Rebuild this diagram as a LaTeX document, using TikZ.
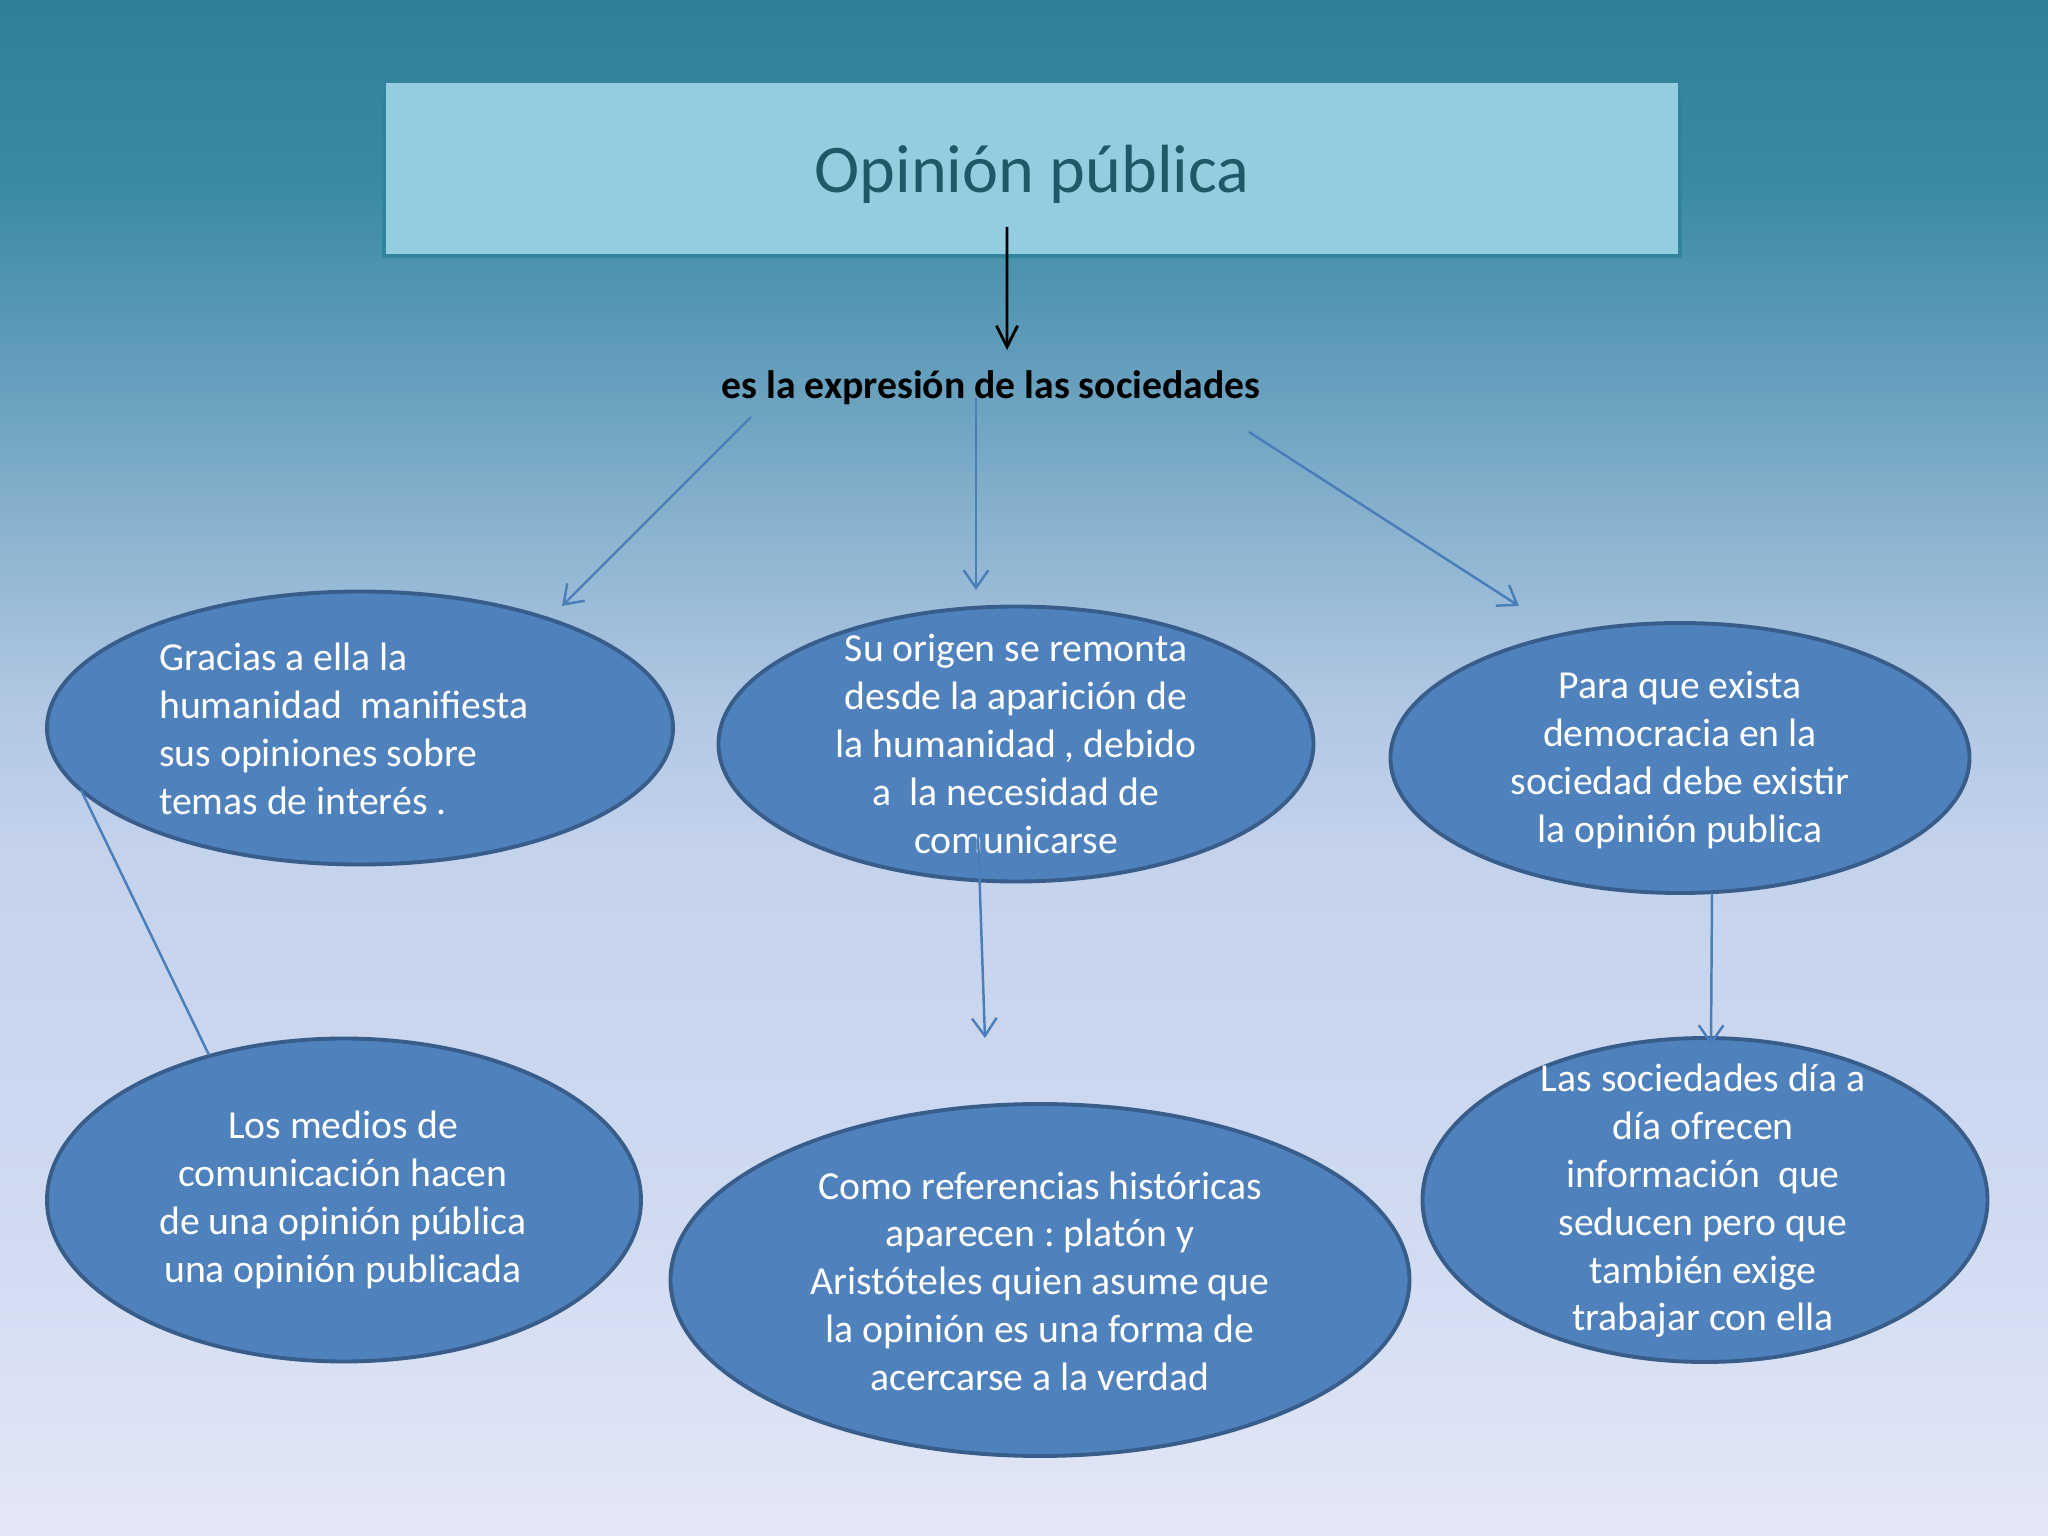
\documentclass[tikz,border=0pt]{standalone}
\usepackage{fontspec}
\setmainfont{Carlito}
\definecolor{bgtop}{RGB}{46, 128, 152}
\definecolor{bgtwo}{RGB}{58, 138, 163}
\definecolor{bgthree}{RGB}{103, 160, 190}
\definecolor{bgfour}{RGB}{140, 180, 208}
\definecolor{bgfive}{RGB}{175, 198, 226}
\definecolor{bgmid}{RGB}{196, 210, 236}
\definecolor{bgsix}{RGB}{208, 219, 241}
\definecolor{bgbot}{RGB}{228, 231, 246}
\definecolor{titlefill}{RGB}{148, 205, 224}
\definecolor{titleline}{RGB}{49, 132, 155}
\definecolor{titletext}{RGB}{33, 88, 104}
\definecolor{bubblefill}{RGB}{79, 129, 189}
\definecolor{bubbleline}{RGB}{56, 93, 138}
\definecolor{linkblue}{RGB}{74, 126, 187}
\usepackage{tikz}
\usetikzlibrary{shapes.geometric, arrows.meta, positioning}

\pgfdeclareverticalshading{slidebg}{100bp}{color(0bp)=(bgbot); color(25bp)=(bgbot); color(35bp)=(bgsix); color(47.5bp)=(bgmid); color(52.5bp)=(bgfive); color(57.5bp)=(bgfour); color(62.5bp)=(bgthree); color(69bp)=(bgtwo); color(75bp)=(bgtop); color(100bp)=(bgtop)}

\tikzset{
  bubble/.style={ellipse, draw=bubbleline, fill=bubblefill, line width=1.1pt, inner sep=0pt},
  bubbletext/.style={text=white, align=center, font=\fontsize{11.3}{13.6}\selectfont, inner sep=0pt},
  link/.style={draw=linkblue, line width=0.7pt, -{Straight Barb[length=5pt, width=7pt]}},
}

\begin{document}
\frenchspacing
\begin{tikzpicture}
  % Background
  \useasboundingbox (0, 0) rectangle (20.48, -15.36);
  \shade[shading=slidebg] (0, 0) rectangle (20.48, -15.36);

  % Title
  \node[draw=titleline, fill=titlefill, line width=1.1pt, minimum width=12.96cm, minimum height=1.75cm, inner sep=0pt] (titulo) at (10.32, -1.685) {};
  \node[text=titletext, font=\fontsize{19.4}{23}\selectfont] (titulotxt) at (10.32, -1.74) {Opinión pública};

  % Middle label
  \node[font=\fontsize{11.3}{13}\selectfont\bfseries, inner sep=0pt] (expr) at (9.91, -3.88) {es la expresión de las sociedades};
  \draw[-{Straight Barb[length=6pt, width=6pt]}, line width=0.8pt] ([xshift=-0.25cm, yshift=0.31cm]titulo.south) -- ([xshift=0.16cm, yshift=0.38cm]expr.center);

  % Upper row
  \node[bubble, minimum width=6.26cm, minimum height=2.73cm] (gracias) at (3.60, -7.28) {};
  \node[bubbletext, align=left] (graciastxt) at (3.44, -7.29) {Gracias a ella la\\humanidad\ \ manifiesta\\sus opiniones sobre\\temas de interés .};

  \node[bubble, minimum width=5.95cm, minimum height=2.75cm] (origen) at (10.16, -7.44) {};
  \node[bubbletext] (origentxt) at (10.16, -7.44) {Su origen se remonta\\desde la aparición de\\la humanidad , debido\\a\ \ la necesidad de\\comunicarse};

  \node[bubble, minimum width=5.79cm, minimum height=2.70cm] (democracia) at (16.80, -7.58) {};
  \node[bubbletext] (democraciatxt) at (16.80, -7.60) {Para que exista\\democracia en la\\sociedad debe existir\\la opinión publica};

  % Lower row
  \node[bubble, minimum width=5.94cm, minimum height=3.23cm] (medios) at (3.44, -12.00) {};
  \node[bubbletext] (mediostxt) at (3.43, -12.00) {Los medios de\\comunicación hacen\\de una opinión pública\\una opinión publicada};

  \node[bubble, minimum width=7.39cm, minimum height=3.52cm] (referencias) at (10.40, -12.80) {};
  \node[bubbletext] (referenciastxt) at (10.40, -12.81) {Como referencias históricas\\aparecen : platón y\\Aristóteles quien asume que\\la opinión es una forma de\\acercarse a la verdad};

  \node[bubble, minimum width=5.65cm, minimum height=3.24cm] (sociedades) at (17.05, -12.00) {};
  \node[bubbletext] (sociedadestxt) at (17.03, -12.01) {Las sociedades día a\\día ofrecen\\información\ \ que\\seducen pero que\\también exige\\trabajar con ella};

  % Connectors
  \draw[link] ([xshift=-2.40cm, yshift=-0.29cm]expr.center) -- ([xshift=2.02cm, yshift=1.22cm]gracias.center);
  \draw[link] ([xshift=-0.15cm, yshift=-0.10cm]expr.center) -- ([xshift=-0.40cm, yshift=1.54cm]origen.center);
  \draw[link] ([xshift=2.58cm, yshift=-0.44cm]expr.center) -- ([xshift=-1.61cm, yshift=1.52cm]democracia.center);
  \draw[draw=linkblue, line width=0.7pt] ([xshift=-2.79cm, yshift=-0.62cm]gracias.center) -- ([xshift=-1.35cm, yshift=1.45cm]medios.center);
  \draw[link] ([xshift=-0.38cm, yshift=-0.91cm]origen.center) -- ([xshift=-0.55cm, yshift=2.42cm]referencias.center);
  \draw[link] ([xshift=0.32cm, yshift=-1.35cm]democracia.center) -- ([xshift=0.06cm, yshift=1.55cm]sociedades.center);
\end{tikzpicture}
\end{document}
